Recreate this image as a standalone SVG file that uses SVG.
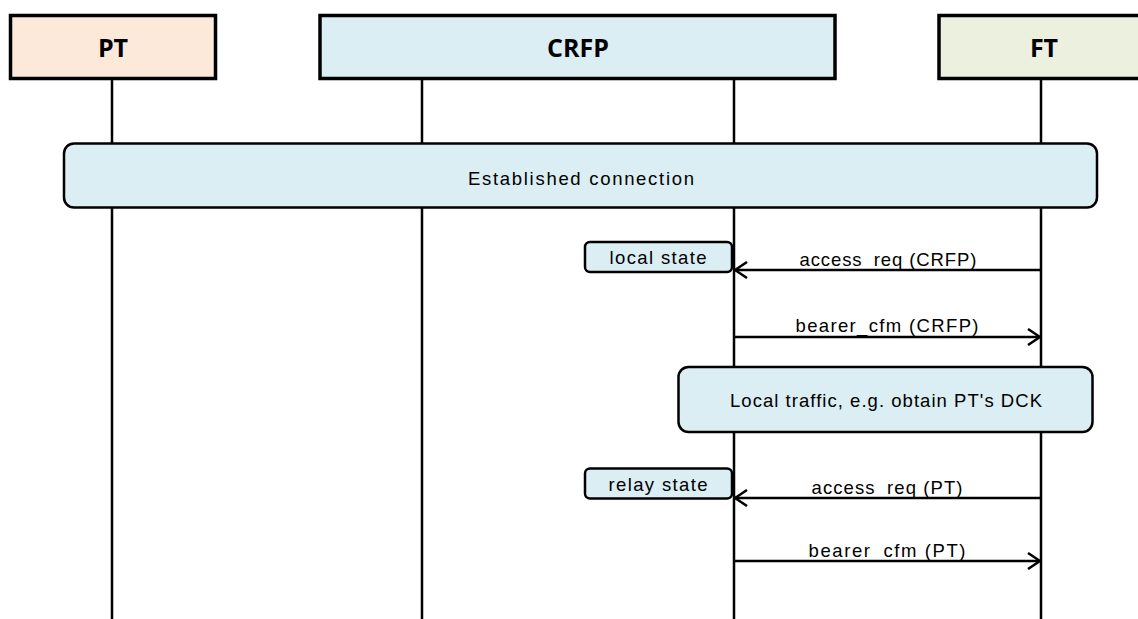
<svg xmlns="http://www.w3.org/2000/svg" width="1138" height="619" viewBox="0 0 1138 619">
<style>
.hdr{stroke:#000;stroke-width:3.5}
.life{stroke:#000;stroke-width:2.5;fill:none}
.box{fill:#DAEEF3;stroke:#000;stroke-width:2.5}
.msg{stroke:#000;stroke-width:2.5;fill:none}
.t{font-family:"Liberation Sans",Arial,sans-serif;font-size:18.5px;fill:#000;text-anchor:middle}
.h{font-family:"Open Sans","Liberation Sans",sans-serif;font-size:25px;font-weight:bold;fill:#000;text-anchor:middle}
</style>
<defs>
<marker id="arr" viewBox="0 0 14 18" refX="13" refY="9" markerWidth="14" markerHeight="18" markerUnits="userSpaceOnUse" orient="auto">
<path d="M1,1 L13,9 L1,17" fill="none" stroke="#000" stroke-width="2.5"/>
</marker>
</defs>
<rect width="1138" height="619" fill="#fff"/>
<g id="lifelines">
<line class="life" x1="112" y1="79" x2="112" y2="619"/>
<line class="life" x1="422" y1="79" x2="422" y2="619"/>
<line class="life" x1="734" y1="79" x2="734" y2="619"/>
<line class="life" x1="1041" y1="79" x2="1041" y2="619"/>
</g>
<g id="PT">
<rect class="hdr" x="10.5" y="15.5" width="205" height="63" fill="#FDE9D9"/>
<text class="h" x="113" y="57">PT</text>
</g>
<g id="CRFP">
<rect class="hdr" x="320" y="15.5" width="515" height="63" fill="#DAEEF3"/>
<text class="h" x="578" y="57">CRFP</text>
</g>
<g id="FT">
<rect class="hdr" x="939" y="15.5" width="210" height="63" fill="#EBF1DE"/>
<text class="h" x="1044" y="57">FT</text>
</g>
<g id="established">
<rect class="box" x="64" y="143.5" width="1033" height="64" rx="10"/>
<text class="t" x="581" y="185" textLength="226">Established connection</text>
</g>
<g id="localstate">
<rect class="box" x="585" y="242" width="147" height="30" rx="5"/>
<text class="t" x="658" y="264" textLength="97">local state</text>
</g>
<g id="localtraffic">
<rect class="box" x="678.5" y="367" width="414" height="65" rx="10"/>
<text class="t" x="886" y="407" textLength="312">Local traffic, e.g. obtain PT's DCK</text>
</g>
<g id="relaystate">
<rect class="box" x="585" y="468.5" width="147" height="30" rx="5"/>
<text class="t" x="658" y="491" textLength="99">relay state</text>
</g>
<g id="connectors">
<line class="msg" x1="1041" y1="270" x2="735" y2="270" marker-end="url(#arr)"/>
<text class="t" x="888" y="266" textLength="177">access_req (CRFP)</text>
<line class="msg" x1="734" y1="337" x2="1040" y2="337" marker-end="url(#arr)"/>
<text class="t" x="887" y="332" textLength="183">bearer_cfm (CRFP)</text>
<line class="msg" x1="1041" y1="498" x2="735" y2="498" marker-end="url(#arr)"/>
<text class="t" x="887" y="494" textLength="151">access_req (PT)</text>
<line class="msg" x1="734" y1="561" x2="1040" y2="561" marker-end="url(#arr)"/>
<text class="t" x="887" y="557" textLength="157">bearer_cfm (PT)</text>
</g>
</svg>
